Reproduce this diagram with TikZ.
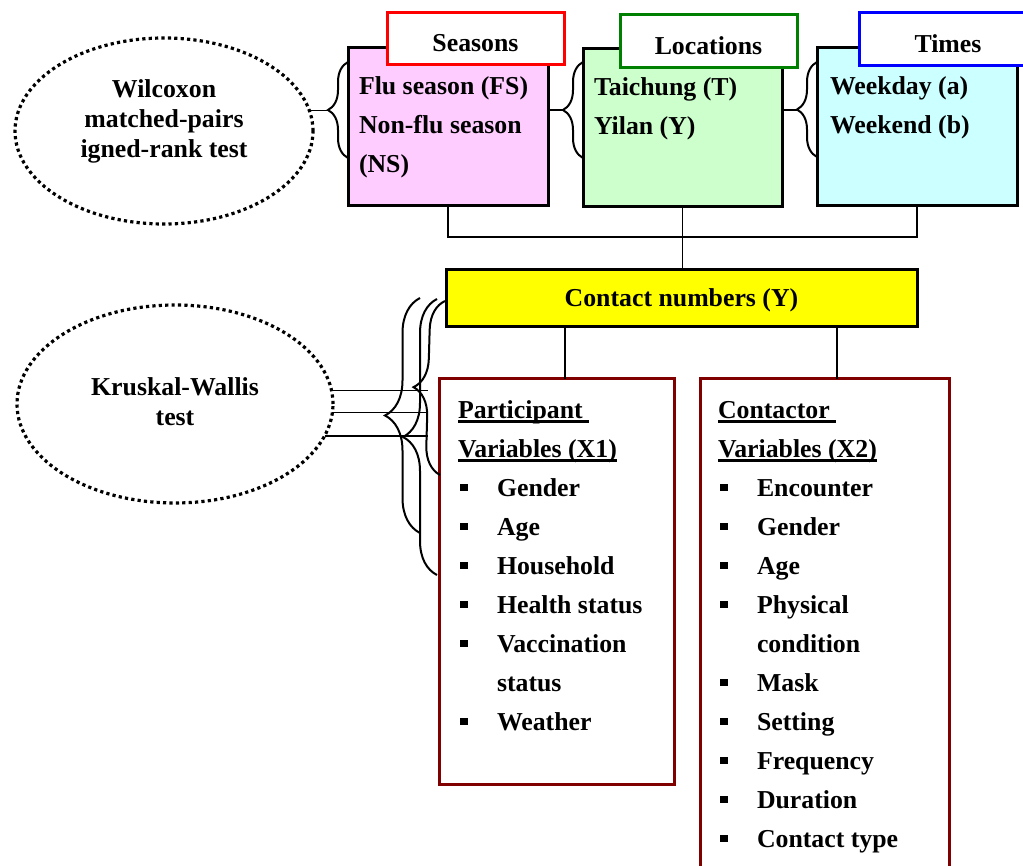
\documentclass[tikz,border=0pt]{standalone}
\usepackage{fontspec}
\setmainfont{Liberation Serif}
\usetikzlibrary{shapes.geometric,decorations.pathreplacing}
\definecolor{pinkF}{HTML}{FFCCFF}
\definecolor{greenF}{HTML}{CCFFCC}
\definecolor{cyanF}{HTML}{CCFFFF}
\definecolor{yelF}{HTML}{FFFF00}
\definecolor{redB}{HTML}{FF0000}
\definecolor{greenB}{HTML}{008000}
\definecolor{blueB}{HTML}{0000FF}
\definecolor{maroonB}{HTML}{800000}
\newcommand{\sqb}{\makebox[39pt][l]{\hspace{2pt}\rule[5pt]{7.5pt}{7.5pt}}}
\newcommand{\indb}{\hspace*{39pt}}
\newcommand{\fstr}{\rule{0pt}{20pt}}
\newcommand{\uln}[1]{\setbox0=\hbox{#1}\rlap{\rule[-4.6pt]{\wd0}{2.2pt}}\box0}
\begin{document}
\begin{tikzpicture}[x=1pt,y=-1pt,
  font=\fontsize{25.8}{39}\selectfont\bfseries,
  txt/.style={inner sep=0pt, outer sep=0pt, anchor=north west, align=left},
  ktxt/.style={font=\fontsize{25.8}{30}\selectfont\bfseries, align=center, inner sep=0pt},
  mainbox/.style={draw=black, line width=3pt, anchor=north west, inner sep=0pt, outer sep=0pt},
  labbox/.style={draw=#1, fill=white, line width=3pt, anchor=north west, inner sep=0pt, outer sep=0pt, text height=26pt, text depth=0pt},
  varbox/.style={draw=maroonB, line width=3pt, anchor=north west, inner sep=0pt, outer sep=0pt},
  ell/.style={ellipse, draw, line width=3.2pt, dash pattern=on 3.2pt off 3.2pt, inner sep=0pt, outer sep=0pt},
  conn/.style={line width=1.5pt},
  brc/.style={decorate, decoration={brace, amplitude=#1}, line width=2pt},
]
\useasboundingbox (0,0) rectangle (1023,866);
\clip (0,0) rectangle (1023,866);

% top boxes
\node[mainbox, fill=pinkF, minimum width=200pt, minimum height=158pt] (fs) at (348,48) {};
\node[mainbox, fill=greenF, minimum width=199pt, minimum height=158pt] (loc) at (583,49) {};
\node[mainbox, fill=cyanF, minimum width=200pt, minimum height=158pt] (tim) at (817,48) {};
\node[labbox=redB, minimum width=177pt, minimum height=52pt] (seas) at (387,13) {Seasons};
\node[labbox=greenB, minimum width=177pt, minimum height=53pt] (locl) at (620,15) {Locations};
\node[labbox=blueB, minimum width=178pt, minimum height=53pt] (timl) at (859,13) {Times};

\node[txt] (fstxt) at (359,75) {\fstr Flu season (FS)\\Non-flu season\\(NS)};
\node[txt] (loctxt) at (594,76) {\fstr Taichung (T)\\Yilan (Y)};
\node[txt] (timtxt) at (830,75) {\fstr Weekday (a)\\Weekend (b)};

% Wilcoxon
\node[ell, minimum width=298pt, minimum height=186pt] (wil) at (164,131) {};
\node[ktxt] (wilt) at (164,121) {Wilcoxon\\matched-pairs\\igned-rank test};

\coordinate (t1) at (328,110);
\coordinate (t2) at (563,110);
\coordinate (t3) at (797,110);
\coordinate (b1s) at (348,158); \coordinate (b1e) at (348,62);
\coordinate (b2s) at (583,158); \coordinate (b2e) at (583,62);
\coordinate (b3s) at (817,157); \coordinate (b3e) at (817,62);
\draw[brc=20pt] (b1s) -- (b1e);
\draw[brc=20pt] (b2s) -- (b2e);
\draw[brc=20pt] (b3s) -- (b3e);
\draw[conn] (wil.8.2) -- (wil.8.2 -| t1);
\draw[conn] (fs.east |- t2) -- (t2);
\draw[conn] (loc.east |- t3) -- (t3);

% contact numbers
\node[mainbox, fill=yelF, minimum width=471pt, minimum height=57pt, text height=18pt, text depth=1pt] (yel) at (446,270) {Contact numbers (Y)};
\coordinate (hy) at (0,237);
\draw[conn] (fs.south) -- (fs.south |- hy) -| (tim.south);
\draw[conn] (loc.south) -- (loc.south |- yel.north);

% variable boxes
\node[varbox, minimum width=235pt, minimum height=405pt] (part) at (439,379) {};
\node[varbox, minimum width=249pt, minimum height=520pt] (cont) at (700,379) {};
\draw[conn] ([xshift=8.5pt]part.north) -- ([xshift=8.5pt]part.north |- yel.south);
\draw[conn] ([xshift=12.5pt]cont.north) -- ([xshift=12.5pt]cont.north |- yel.south);

\node[txt] (parttxt) at (458,398) {\fstr\uln{Participant\ }\\
\uln{Variables (X1)}\\
\sqb Gender\\
\sqb Age\\
\sqb Household\\
\sqb Health status\\
\sqb Vaccination\\
\indb status\\
\sqb Weather};

\node[txt] (conttxt) at (718,398) {\fstr\uln{Contactor\ }\\
\uln{Variables (X2)}\\
\sqb Encounter\\
\sqb Gender\\
\sqb Age\\
\sqb Physical\\
\indb condition\\
\sqb Mask\\
\sqb Setting\\
\sqb Frequency\\
\sqb Duration\\
\sqb Contact type};

% Kruskal-Wallis
\node[ell, minimum width=316pt, minimum height=198pt] (kw) at (175,404) {};
\node[ktxt] (kwt) at (175,402) {Kruskal-Wallis\\test};
\coordinate (jx) at (428,0);
\draw[conn] (kw.5.9) -- (kw.5.9 -| jx);
\draw[conn] (kw.-3.6) -- (kw.-3.6 -| jx);
\draw[conn] (kw.-12.5) -- (kw.-12.5 -| jx);
\coordinate (kas) at (420,533); \coordinate (kae) at (420,298);
\coordinate (kbs) at (440,475); \coordinate (kbe) at (445,301);
\coordinate (kcs) at (437,575); \coordinate (kce) at (437,299);
\draw[brc=35pt] (kas) -- (kae);
\draw[brc=29pt] (kbs) -- (kbe);
\draw[brc=34pt] (kcs) -- (kce);
\end{tikzpicture}
\end{document}
